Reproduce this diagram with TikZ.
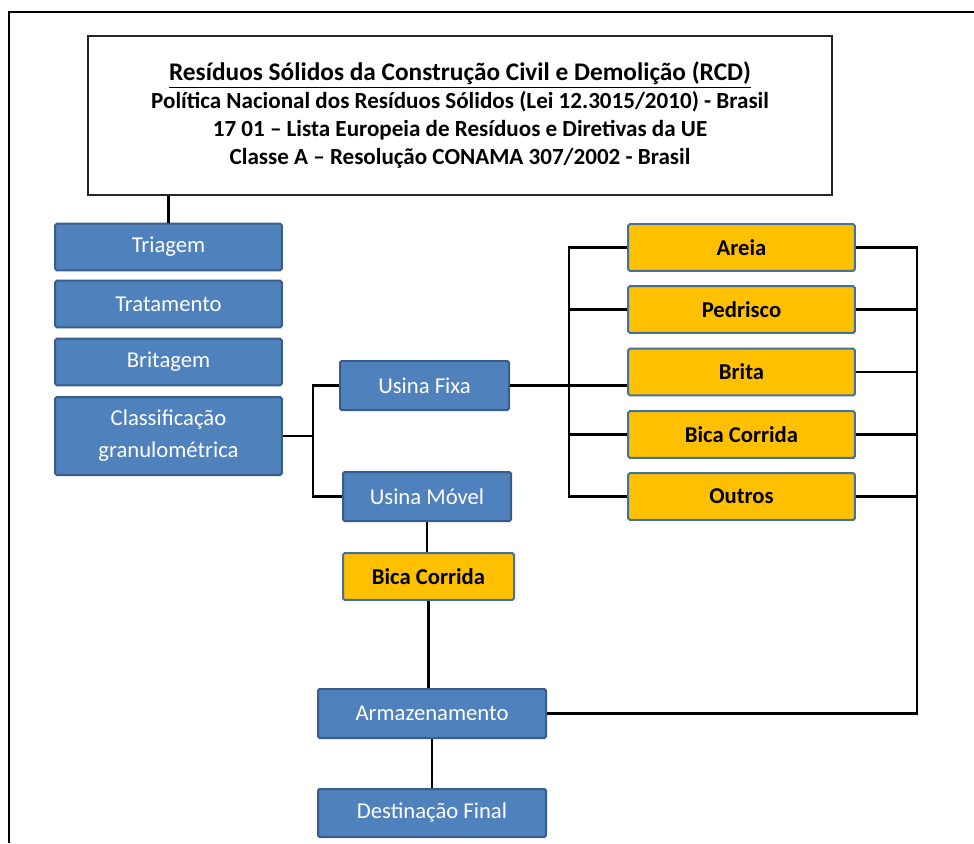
\documentclass[tikz,border=0pt]{standalone}
\usepackage{fontspec}
\setmainfont{Carlito}
\usepackage{tikz}

\definecolor{azulfundo}{HTML}{4F81BD}
\definecolor{azulborda}{HTML}{385D8A}
\definecolor{amarelofundo}{HTML}{FFC000}
\definecolor{amareloborda}{HTML}{41719C}
\definecolor{cinzaborda}{HTML}{262626}

\begin{document}
\begin{tikzpicture}[x=0.75pt, y=-0.75pt, line width=2.1pt,
    caixa/.style={rectangle, line width=1.5pt, inner sep=0pt, align=center, rounded corners=1.2pt,
        font=\fontsize{17}{24}\selectfont, minimum width=170pt, minimum height=35pt},
    azul/.style={caixa, draw=azulborda, fill=azulfundo, text=white},
    amarelo/.style={caixa, draw=amareloborda, fill=amarelofundo, text=black,
        font=\fontsize{17}{24}\selectfont\bfseries},
    titulo/.style={rectangle, draw=cinzaborda, line width=1.5pt, align=center,
        minimum width=558pt, minimum height=119pt, inner sep=0pt,
        font=\fontsize{17.3}{21}\selectfont\bfseries}]

    \useasboundingbox (0,0) rectangle (974,843);
    \draw[line width=2pt] (974,12) -- (9,12) -- (9,843);

    \node[titulo] (titulo) at (460,115.5)
        {{\fontsize{19}{21}\selectfont\underline{Resíduos Sólidos da Construção Civil e Demolição (RCD)}}\\
         Política Nacional dos Resíduos Sólidos (Lei 12.3015/2010) - Brasil\\
         17 01 – Lista Europeia de Resíduos e Diretivas da UE\\
         Classe A – Resolução CONAMA 307/2002 - Brasil};

    \foreach \n/\y/\t in {triagem/247/Triagem, tratamento/304/Tratamento, britagem/362/Britagem}
        \node[azul] (\n) at (168.5,\y) {\t};
    \node[azul, minimum height=58.5pt] (classif) at (168.5,436) {Classificação\\granulométrica};

    \node[azul, minimum width=126.75pt, minimum height=36.75pt] (ufixa) at (424.5,385.5) {Usina Fixa};
    \node[azul, minimum width=126pt, minimum height=36.75pt] (umovel) at (427,496.5) {Usina Móvel};
    \node[amarelo, minimum width=128.25pt] (bica2) at (428.5,576.5) {Bica Corrida};
    \node[azul, minimum width=171pt, minimum height=36.75pt] (arm) at (432,713.5) {Armazenamento};
    \node[azul, minimum width=171pt, minimum height=36pt] (dest) at (432,813) {Destinação Final};

    \foreach \n/\y/\t in {areia/247.5/Areia, pedrisco/309.5/Pedrisco, brita/372/Brita,
                          bica/434.5/Bica Corrida, outros/496.5/Outros}
        \node[amarelo] (\n) at (741.5,\y) {\t};

    \coordinate (chave1) at (313,0);
    \coordinate (chave2) at (569,0);
    \coordinate (chave3) at (917,0);

    \draw (triagem.north) -- (triagem.north |- titulo.south);
    \draw (classif.east) -- (classif.east -| chave1);
    \draw (ufixa.west) -| (chave1 |- umovel.west) -- (umovel.west);

    \draw (ufixa.east) -- (ufixa.east -| brita.west);
    \draw (areia.west) -| (chave2 |- outros.west) -- (outros.west);
    \foreach \t in {pedrisco, bica}
        \draw (\t.west) -- (\t.west -| chave2);

    \draw (areia.east) -| (chave3 |- arm.east) -- (arm.east);
    \foreach \t in {pedrisco, brita, bica, outros}
        \draw (\t.east) -- (\t.east -| chave3);

    \draw (umovel.south) -- (umovel.south |- bica2.north);
    \draw (bica2.south) -- (bica2.south |- arm.north);
    \draw (arm.south) -- (arm.south |- dest.north);

\end{tikzpicture}
\end{document}
